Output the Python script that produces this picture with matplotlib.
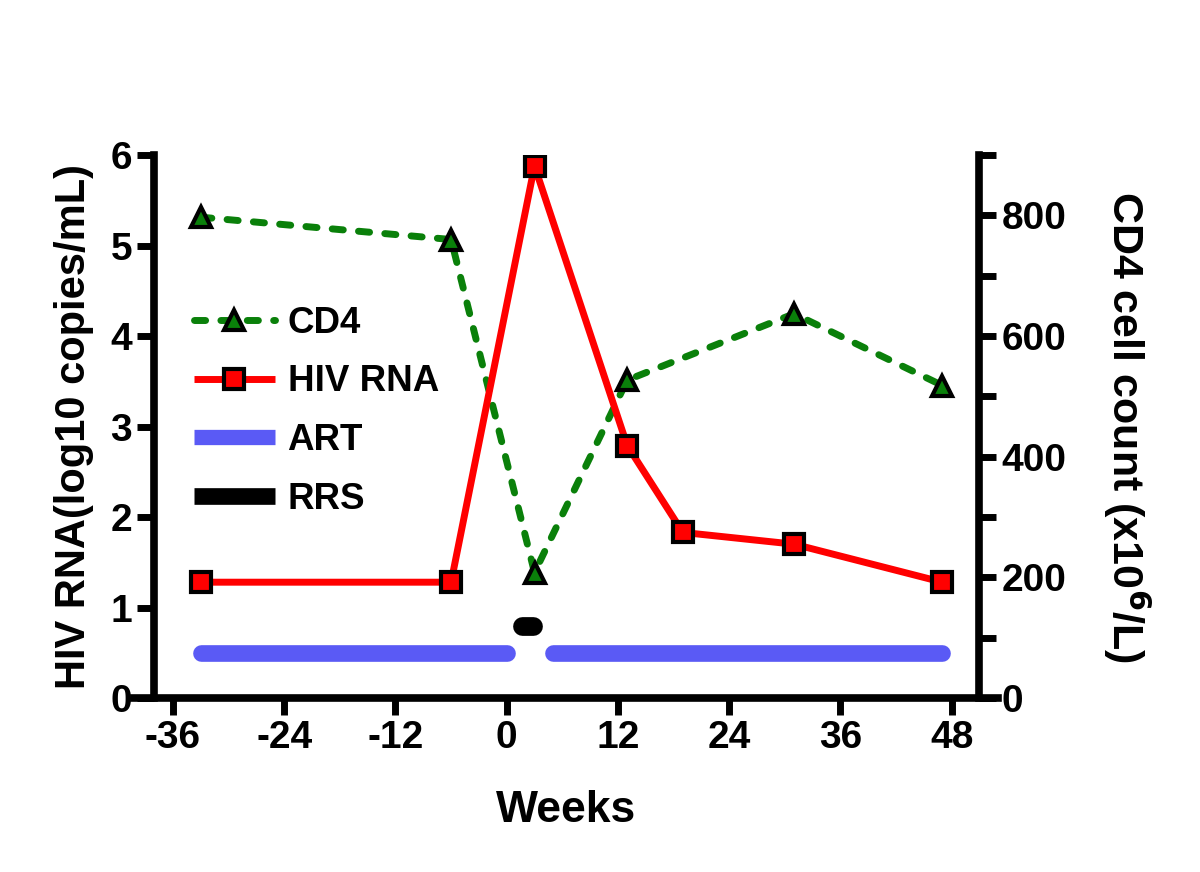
import matplotlib
matplotlib.use("Agg")
import matplotlib.pyplot as plt
from matplotlib.lines import Line2D

plt.rcParams['font.family'] = ['Liberation Sans', 'DejaVu Sans']
plt.rcParams['font.weight'] = 'bold'

# data
hiv_weeks = [-33, -6, 3, 13, 19, 31, 47]
hiv_rna = [1.28, 1.28, 5.88, 2.79, 1.83, 1.70, 1.28]

cd4_weeks = [-33, -6, 3, 13, 31, 47]
cd4_count = [797, 760, 208, 527, 637, 518]

art_periods = [(-33, 0), (5, 47)]
art_level = 0.5
rrs_period = (1.7, 2.8)
rrs_level = 0.8

x_ticks = [-36, -24, -12, 0, 12, 24, 36, 48]

RED = "#ff0000"
GREEN = "#0a800a"
BLUE = "#5a5af5"

fig = plt.figure(figsize=(12, 8.72), dpi=100)
ax = fig.add_axes([0.1117, 0.1995, 0.72, 0.6227])
ax2 = ax.twinx()

# CD4 on right axis
ax2.plot(cd4_weeks, cd4_count, color=GREEN, lw=5, dashes=(1.6, 2.2),
         dash_capstyle="round", marker="^", ms=15, mfc=GREEN, mec="black",
         mew=3, zorder=3)

# HIV RNA, ART and RRS on left axis
ax.plot(hiv_weeks, hiv_rna, color=RED, lw=5, marker="s", ms=15,
        mfc=RED, mec="black", mew=3, zorder=4)
for start, end in art_periods:
    ax.plot([start, end], [art_level, art_level], color=BLUE, lw=12,
            solid_capstyle="round", zorder=2)
ax.plot(list(rrs_period), [rrs_level, rrs_level], color="black", lw=13.5,
        solid_capstyle="round", zorder=2)

ax.set_zorder(ax2.get_zorder() + 1)
ax.patch.set_visible(False)

ax.set_xlim(-40.2, 53)
ax.set_ylim(0, 6)
ax2.set_ylim(0, 900)

ax.set_xticks(x_ticks)
ax.set_xticklabels([str(t) for t in x_ticks])
ax.set_yticks(range(0, 7))
ax2.set_yticks(range(0, 901, 100))
ax2.set_yticklabels([str(v) if v % 200 == 0 else "" for v in range(0, 901, 100)])

for s in ["top", "right"]:
    ax.spines[s].set_visible(False)
for s in ["top", "left", "bottom"]:
    ax2.spines[s].set_visible(False)
ax.spines["left"].set_position(("data", -38))
ax2.spines["right"].set_position(("data", 51))
for sp in [ax.spines["left"], ax.spines["bottom"], ax2.spines["right"]]:
    sp.set_linewidth(5.5)

ax.tick_params(axis="both", direction="out", length=12, width=5,
               labelsize=28, pad=4)
ax2.tick_params(axis="y", direction="out", length=12, width=5,
                labelsize=28, pad=4)

ax.set_xlabel("Weeks", fontsize=32, fontweight="bold", labelpad=24)
ax.set_ylabel("HIV RNA(log10 copies/mL)", fontsize=30, fontweight="bold",
              labelpad=12)
ax2.set_ylabel("CD4 cell count (x10$^\\mathbf{6}$/L)", fontsize=31,
               fontweight="bold", rotation=270, labelpad=62)

handles = [
    Line2D([], [], color=GREEN, lw=5, dashes=(1.6, 2.2), dash_capstyle="round",
           marker="^", ms=15, mfc=GREEN, mec="black", mew=3),
    Line2D([], [], color=RED, lw=5, marker="s", ms=15, mfc=RED,
           mec="black", mew=3, solid_capstyle="butt"),
    Line2D([], [], color=BLUE, lw=11, solid_capstyle="butt"),
    Line2D([], [], color="black", lw=12, solid_capstyle="butt"),
]
labels = ["CD4", "HIV RNA", "ART", "RRS"]
ax.legend(handles, labels, loc="upper left", bbox_to_anchor=(0.052, 0.75),
          frameon=False, fontsize=26.5, handlelength=2.2, handletextpad=0.35,
          labelspacing=0.65, numpoints=1, borderaxespad=0)

fig.savefig("out.png", dpi=100)
